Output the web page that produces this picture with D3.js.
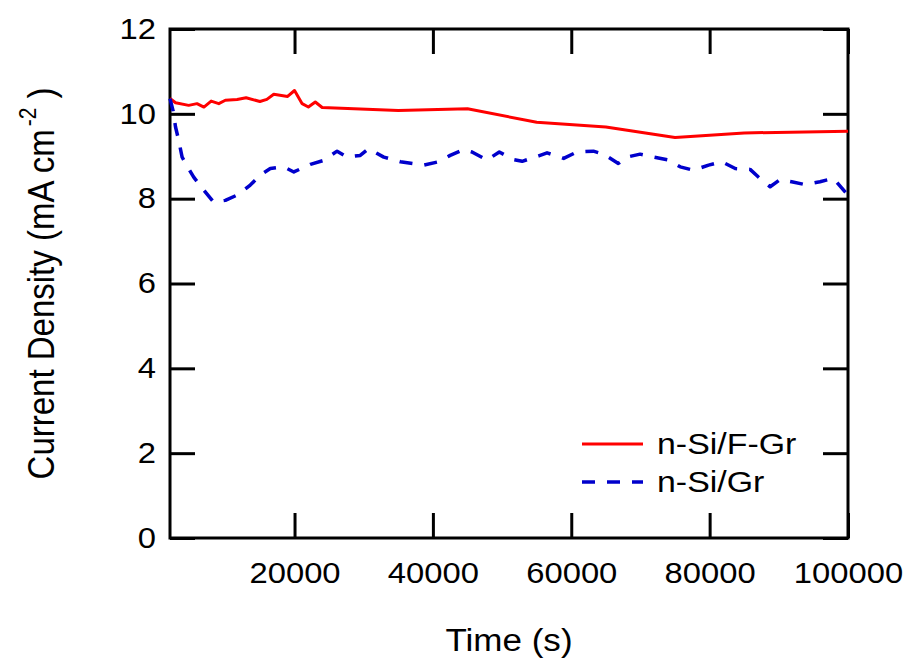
<!DOCTYPE html>
<html>
<head>
<meta charset="utf-8">
<script src="https://cdn.jsdelivr.net/npm/d3@7"></script>
<style>
  body { margin: 0; background: #fff; }
  svg { display: block; font-family: Arial, "Liberation Sans", sans-serif; }
</style>
</head>
<body>
<div id="chart"></div>
<script>
// values
const xTicks = [20000, 40000, 60000, 80000, 100000];
const yTicks = [0, 2, 4, 6, 8, 10, 12];
const seriesNames = ["n-Si/F-Gr", "n-Si/Gr"];

const timeFGr = [2000, 2800, 4700, 5900, 6900, 7950, 9050, 10000, 11700, 13000, 15000, 16000,
  17000, 19000, 20000, 21100, 22000, 23000, 24000, 35000, 45000, 55000, 65000, 75000, 85000, 100000];
const densityFGr = [10.36, 10.26, 10.2, 10.24, 10.16, 10.3, 10.24, 10.32, 10.34, 10.38, 10.29, 10.34,
  10.46, 10.41, 10.55, 10.24, 10.16, 10.28, 10.15, 10.08, 10.12, 9.8, 9.69, 9.44, 9.55, 9.59];

const timeGr = [2000, 2450, 2800, 3250, 3750, 4400, 5450, 6900, 8300, 10000, 11900, 13600, 15100,
  16500, 18450, 19900, 22300, 24200, 26150, 27600, 29500, 30700, 32900, 35300, 38650, 40800,
  42500, 44450, 45650, 47800, 49600, 51650, 52900, 55300, 56500, 58900, 60800, 63200, 64650,
  66800, 68050, 69950, 71900, 74050, 75750, 77650, 79850, 81750, 83700, 85850, 87050, 88750,
  90200, 91850, 93800, 95950, 97900, 100000];
const densityGr = [10.36, 10.07, 9.69, 9.38, 8.98, 8.79, 8.5, 8.2, 7.92, 7.96, 8.1, 8.32, 8.56,
  8.71, 8.75, 8.63, 8.81, 8.9, 9.12, 8.98, 9.02, 9.18, 8.98, 8.87, 8.79, 8.87,
  9.02, 9.16, 9.1, 8.91, 9.1, 8.92, 8.88, 9.01, 9.08, 8.95, 9.1, 9.12, 9.05,
  8.83, 8.98, 9.05, 8.98, 8.91, 8.75, 8.67, 8.79, 8.87, 8.71, 8.69, 8.51, 8.28,
  8.45, 8.4, 8.33, 8.4, 8.48, 8.08];

const W = 907, H = 662;
const margin = { top: 29, right: 59, bottom: 124, left: 170 };
const width = W - margin.left - margin.right;
const height = H - margin.top - margin.bottom;
const stretch = 1.13; // the source figure is a little wider than its fonts
const tickLen = 25;

const svg = d3.select("#chart").append("svg")
  .attr("width", W)
  .attr("height", H);

const g = svg.append("g")
  .attr("transform", `translate(${margin.left},${margin.top})`);

const x = d3.scaleLinear().domain([2000, 100000]).range([0, width]);
const y = d3.scaleLinear().domain([0, 12]).range([height, 0]);

// axes, ticks pointing inward on all four sides
const gx = g.append("g")
  .attr("transform", `translate(0,${height})`)
  .call(d3.axisBottom(x).tickValues(xTicks).tickFormat(d3.format("d"))
    .tickSizeInner(-tickLen).tickSizeOuter(0).tickPadding(24));

const gy = g.append("g")
  .call(d3.axisLeft(y).tickValues(yTicks).tickFormat(d3.format("d"))
    .tickSizeInner(-tickLen).tickSizeOuter(0).tickPadding(14));

const gTop = g.append("g")
  .call(d3.axisTop(x).tickValues(xTicks).tickFormat("")
    .tickSizeInner(-tickLen).tickSizeOuter(0));

const gRight = g.append("g")
  .attr("transform", `translate(${width},0)`)
  .call(d3.axisRight(y).tickValues(yTicks).tickFormat("")
    .tickSizeInner(-tickLen).tickSizeOuter(0));

[gx, gy, gTop, gRight].forEach(a => {
  a.select(".domain").remove();
  a.selectAll(".tick line").attr("stroke", "#000").attr("stroke-width", 3);
});

gx.selectAll(".tick text")
  .attr("font-size", 29)
  .attr("fill", "#000")
  .attr("transform", `scale(${stretch},1)`);

gy.selectAll(".tick text")
  .attr("font-size", 29)
  .attr("fill", "#000")
  .attr("x", -14 / stretch)
  .attr("transform", `scale(${stretch},1)`);

// frame
g.append("rect")
  .attr("width", width)
  .attr("height", height)
  .attr("fill", "none")
  .attr("stroke", "#000")
  .attr("stroke-width", 3);

// series
const series = [
  { name: seriesNames[0], t: timeFGr, v: densityFGr, color: "#ff0000", width: 3, dash: null },
  { name: seriesNames[1], t: timeGr, v: densityGr, color: "#0000cc", width: 3.5, dash: "13,12" }
];

const line = d3.line()
  .x(d => x(d[0]))
  .y(d => y(d[1]));

series.forEach(s => {
  g.append("path")
    .datum(d3.zip(s.t, s.v))
    .attr("fill", "none")
    .attr("stroke", s.color)
    .attr("stroke-width", s.width)
    .attr("stroke-linejoin", "round")
    .attr("stroke-dasharray", s.dash)
    .attr("d", line);
});

// legend
const legend = svg.append("g").attr("transform", "translate(582,444)");
series.forEach((s, i) => {
  const row = legend.append("g").attr("transform", `translate(0,${i * 38})`);
  row.append("line")
    .attr("x1", 0).attr("x2", 61)
    .attr("stroke", s.color)
    .attr("stroke-width", s.width)
    .attr("stroke-dasharray", s.dash);
  row.append("text")
    .attr("transform", `translate(75,10) scale(${stretch},1)`)
    .attr("font-size", 30)
    .text(s.name);
});

// axis titles
svg.append("text")
  .attr("transform", `translate(${margin.left + width / 2},651) scale(${stretch},1)`)
  .attr("text-anchor", "middle")
  .attr("font-size", 31)
  .text("Time (s)");

const yTitle = svg.append("text")
  .attr("transform", `translate(54,${margin.top + height / 2}) rotate(-90) scale(1,${stretch})`)
  .attr("text-anchor", "middle")
  .attr("font-size", 33);
yTitle.append("tspan").text("Current Density (mA cm");
yTitle.append("tspan").attr("font-size", 21).attr("dy", -16).attr("dx", 3).text("-2");
yTitle.append("tspan").attr("dy", 16).attr("dx", 9).text(")");
</script>
</body>
</html>
